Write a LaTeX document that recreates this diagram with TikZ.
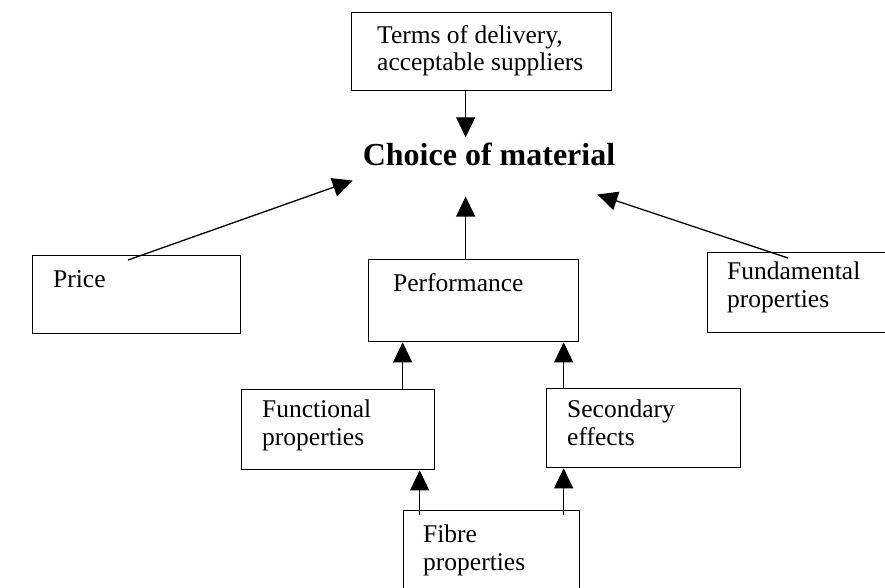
\documentclass[tikz,border=0pt]{standalone}
\usepackage{fontspec}
\setmainfont{Liberation Serif}
\usetikzlibrary{arrows.meta, calc, positioning}

\begin{document}
\begin{tikzpicture}[x=1pt, y=1pt,
        box/.style={draw, line width=1.3pt, rectangle, inner sep=0pt, anchor=north west},
        txt/.style={anchor=north west, inner sep=0pt, align=left, font=\fontsize{25.5}{27.5}\selectfont},
        arr/.style={line width=1.3pt, -{Triangle[width=19pt, length=20pt]}}]
        \useasboundingbox (0,0) rectangle (885,-587);
        \clip (0,0) rectangle (885,-587);
        % boxes
        \node [box, minimum width=260pt, minimum height=78pt] (terms) at (351,-12) {};
        \node [box, minimum width=208pt, minimum height=78pt] (price) at (32,-255) {};
        \node [box, minimum width=210pt, minimum height=82pt] (perf) at (368,-259) {};
        \node [box, minimum width=200pt, minimum height=80pt] (fund) at (707,-252) {};
        \node [box, minimum width=193pt, minimum height=80pt] (func) at (241,-389) {};
        \node [box, minimum width=194pt, minimum height=79pt] (sec) at (546,-388) {};
        \node [box, minimum width=176pt, minimum height=100pt] (fibre) at (403,-510) {};
        % texts
        \node [txt] at ([xshift=26pt, yshift=-13pt]terms.north west) {Terms of delivery,\\acceptable suppliers};
        \node [txt] at ([xshift=21pt, yshift=-15pt]price.north west) {Price};
        \node [txt] at ([xshift=25pt, yshift=-14pt]perf.north west) {Performance};
        \node [txt] at ([xshift=20pt, yshift=-10pt]fund.north west) {Fundamental\\properties};
        \node [txt] at ([xshift=21pt, yshift=-11pt]func.north west) {Functional\\properties};
        \node [txt] at ([xshift=21pt, yshift=-12pt]sec.north west) {Secondary\\effects};
        \node [txt] at ([xshift=20pt, yshift=-15pt]fibre.north west) {Fibre\\properties};
        \node [font=\bfseries\fontsize{32}{36}\selectfont, inner sep=0pt, anchor=base] (choice) at (489,-165) {Choice of material};
        % arrows
        \draw [arr] ([xshift=-16pt]terms.south) coordinate (t1) -- ($(t1 |- choice.north)+(0,5)$);
        \draw [arr] ([xshift=96pt, yshift=-5pt]price.north west) -- ([xshift=-10pt, yshift=-15pt]choice.south west);
        \draw [arr] ([xshift=81pt, yshift=-6pt]fund.north west) -- ([xshift=-18pt, yshift=-29pt]choice.south east);
        \draw [arr] ([xshift=-8pt]perf.north) coordinate (p1) -- ($(p1 |- choice.south)+(0,-31)$);
        \draw [arr] ([xshift=64.5pt]func.north) coordinate (f1) -- (f1 |- perf.south);
        \draw [arr] ([xshift=-80pt]sec.north) coordinate (s1) -- (s1 |- perf.south);
        \draw [arr] ([xshift=-72pt, yshift=-5pt]fibre.north) coordinate (b1) -- (b1 |- func.south);
        \draw [arr] ([xshift=72pt, yshift=-5pt]fibre.north) coordinate (b2) -- (b2 |- sec.south);
    \end{tikzpicture}
\end{document}
